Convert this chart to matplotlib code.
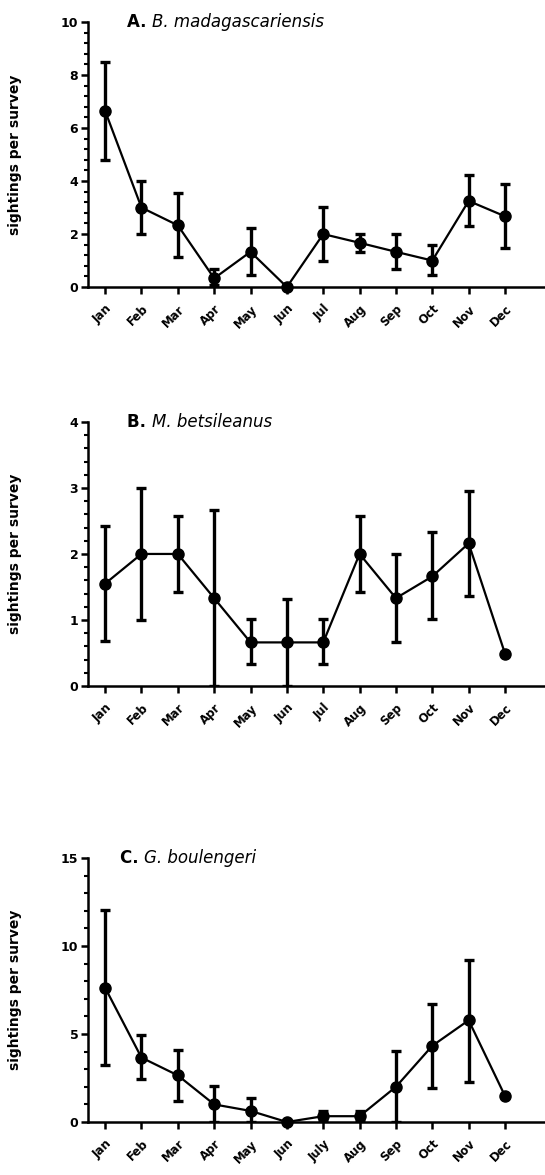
import matplotlib.pyplot as plt
from matplotlib.ticker import MultipleLocator
import numpy as np

# monthly sightings per survey, mean with error bar ends
months_a = ['Jan', 'Feb', 'Mar', 'Apr', 'May', 'Jun', 'Jul', 'Aug', 'Sep', 'Oct', 'Nov', 'Dec']
mean_a = [6.65, 3.0, 2.33, 0.33, 1.33, 0.0, 2.0, 1.67, 1.33, 1.0, 3.25, 2.67]
low_a = [4.8, 2.0, 1.13, 0.08, 0.46, 0.0, 1.0, 1.33, 0.67, 0.45, 2.31, 1.47]
high_a = [8.5, 4.0, 3.55, 0.68, 2.22, 0.0, 3.01, 2.0, 2.0, 1.59, 4.23, 3.89]

months_b = months_a
mean_b = [1.55, 2.0, 2.0, 1.33, 0.66, 0.66, 0.66, 2.0, 1.33, 1.66, 2.16, 0.49]
low_b = [0.68, 1.0, 1.42, 0.0, 0.34, 0.0, 0.34, 1.42, 0.67, 1.01, 1.36, 0.49]
high_b = [2.43, 3.0, 2.58, 2.66, 1.01, 1.32, 1.01, 2.58, 2.0, 2.33, 2.96, 0.49]

months_c = ['Jan', 'Feb', 'Mar', 'Apr', 'May', 'Jun', 'July', 'Aug', 'Sep', 'Oct', 'Nov', 'Dec']
mean_c = [7.63, 3.66, 2.65, 1.0, 0.63, 0.0, 0.33, 0.33, 2.0, 4.33, 5.78, 1.48]
low_c = [3.22, 2.46, 1.19, 0.0, 0.0, 0.0, 0.05, 0.05, 0.0, 1.95, 2.27, 1.48]
high_c = [12.06, 4.92, 4.11, 2.03, 1.36, 0.0, 0.6, 0.6, 4.03, 6.72, 9.22, 1.48]

plt.rcParams['font.family'] = ['DejaVu Sans']

fig = plt.figure(figsize=(5.45, 11.75), dpi=100)

panels = [
    ([0.1615, 0.7557, 0.8385, 0.2255], months_a, mean_a, low_a, high_a, 10, 2, 0.4, 'A.', 'B. madagascariensis', 0.085),
    ([0.1615, 0.4162, 0.8385, 0.2247], months_b, mean_b, low_b, high_b, 4, 1, 0.2, 'B.', 'M. betsileanus', 0.085),
    ([0.1615, 0.0451, 0.8385, 0.2247], months_c, mean_c, low_c, high_c, 15, 5, 1, 'C.', 'G. boulengeri', 0.07),
]

for pos, months, mean, low, high, ymax, major, minor, letter, species, tx in panels:
    ax = fig.add_axes(pos)
    x = np.arange(len(months))
    mean = np.array(mean)
    yerr = [mean - np.array(low), np.array(high) - mean]
    ax.errorbar(x, mean, yerr=yerr, fmt='none', ecolor='black', elinewidth=2.4,
                capsize=3.5, capthick=2.4, zorder=2)
    ax.plot(x, mean, color='black', lw=1.6, marker='o', markersize=8, zorder=3, clip_on=False)

    ax.set_xlim(-0.47, 12.1)
    ax.set_ylim(0, ymax)
    ax.yaxis.set_major_locator(MultipleLocator(major))
    ax.yaxis.set_minor_locator(MultipleLocator(minor))
    ax.set_xticks(x)
    ax.set_xticklabels(months, rotation=45, ha='right', va='top', rotation_mode='anchor',
                       fontsize=8.5, fontweight='bold')
    for lab in ax.get_yticklabels():
        lab.set_fontweight('bold')
        lab.set_fontsize(9)

    for side in ['top', 'right']:
        ax.spines[side].set_visible(False)
    for side in ['left', 'bottom']:
        ax.spines[side].set_linewidth(1.8)
    ax.tick_params(axis='both', which='major', length=5, width=1.8, pad=2)
    ax.tick_params(axis='y', which='minor', length=3, width=1.5)
    ax.tick_params(axis='x', which='major', pad=6)

    ax.set_ylabel('sightings per survey', fontsize=10, fontweight='bold')
    ax.yaxis.set_label_coords(-0.145, 0.5)

    t1 = ax.text(tx, 1.0, letter + ' ', transform=ax.transAxes, fontsize=12,
                 fontweight='bold', va='center', ha='left')
    ax.annotate(species, xy=(1, 0), xycoords=t1, va='bottom', ha='left',
                fontsize=12, fontstyle='italic')

plt.savefig('out.png', dpi=100)
